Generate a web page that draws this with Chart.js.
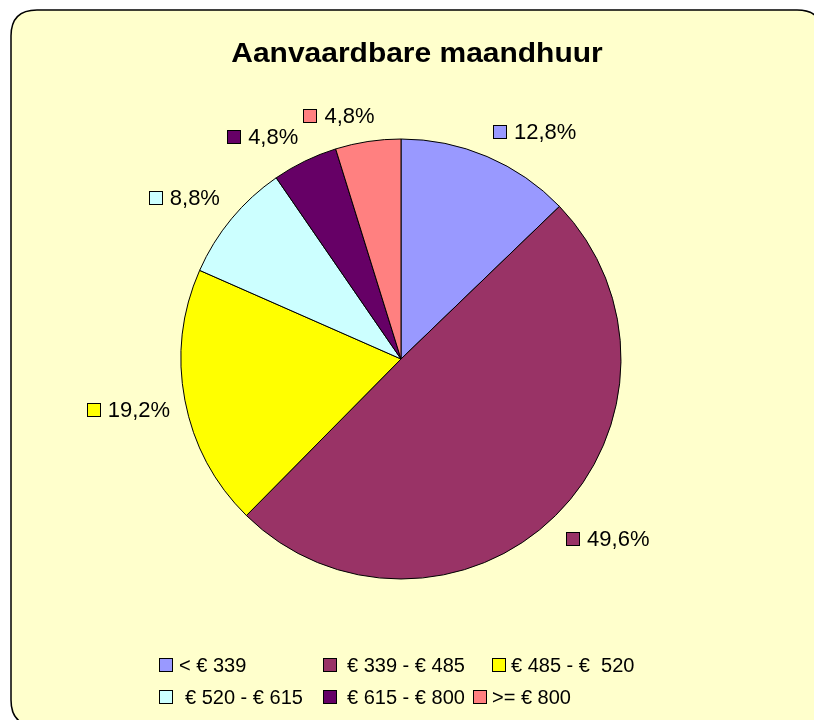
<!DOCTYPE html>
<html>
<head>
<meta charset="utf-8">
<script src="https://cdn.jsdelivr.net/npm/chart.js@4/dist/chart.umd.min.js"></script>
<style>
html,body{margin:0;padding:0;background:#ffffff;}
#wrap{width:814px;height:720px;}
</style>
</head>
<body>
<div id="wrap"><canvas id="c" width="814" height="720"></canvas></div>
<script>
const chartTitle = 'Aanvaardbare maandhuur';
const categories = ['< € 339', '€ 339 - € 485', '€ 485 - €  520', '€ 520 - € 615', '€ 615 - € 800', '>= € 800'];
const shares = [12.8, 49.6, 19.2, 8.8, 4.8, 4.8];
const valueLabels = ['12,8%', '49,6%', '19,2%', '8,8%', '4,8%', '4,8%'];
const sliceColors = ['#9999FF', '#993366', '#FFFF00', '#CCFFFF', '#660066', '#FF8080'];

const FONT = '"Liberation Sans", Arial, sans-serif';

// Legend layout (x of each swatch, row of each item)
const legendSwatchX = [159, 323, 492, 159, 323, 473];
const legendTextGap = [6, 10, 5, 12, 10, 5];
const legendRowY = [665, 697];

const backgroundPlugin = {
  id: 'bgbox',
  beforeDraw(chart) {
    const ctx = chart.ctx;
    ctx.save();
    ctx.fillStyle = '#ffffff';
    ctx.fillRect(0, 0, chart.width, chart.height);
    const x = 11, y = 10, w = 812, h = 716, r = 26;
    ctx.beginPath();
    ctx.moveTo(x + r, y);
    ctx.lineTo(x + w - r, y);
    ctx.quadraticCurveTo(x + w, y, x + w, y + r);
    ctx.lineTo(x + w, y + h - r);
    ctx.quadraticCurveTo(x + w, y + h, x + w - r, y + h);
    ctx.lineTo(x + r, y + h);
    ctx.quadraticCurveTo(x, y + h, x, y + h - r);
    ctx.lineTo(x, y + r);
    ctx.quadraticCurveTo(x, y, x + r, y);
    ctx.closePath();
    ctx.fillStyle = '#FFFFCC';
    ctx.fill();
    ctx.lineWidth = 1.5;
    ctx.strokeStyle = '#000000';
    ctx.stroke();
    ctx.restore();
  }
};

const titlePlugin = {
  id: 'stretchedTitle',
  afterDraw(chart) {
    const ctx = chart.ctx;
    ctx.save();
    ctx.font = 'bold 27px ' + FONT;
    ctx.fillStyle = '#000000';
    ctx.textBaseline = 'alphabetic';
    ctx.textAlign = 'center';
    const sx = 1.11;
    ctx.translate(417, 62);
    ctx.scale(sx, 1);
    ctx.fillText(chartTitle, 0, 0);
    ctx.restore();
  }
};

function clamp(v) { return Math.max(-1, Math.min(1, v)); }

function drawSwatch(ctx, x, y, color) {
  ctx.fillStyle = color;
  ctx.fillRect(x, y, 14, 14);
  ctx.lineWidth = 1;
  ctx.strokeStyle = '#000000';
  ctx.strokeRect(x + 0.5, y + 0.5, 13, 13);
}

const labelPlugin = {
  id: 'outsideLabels',
  afterDatasetsDraw(chart) {
    const ctx = chart.ctx;
    const meta = chart.getDatasetMeta(0);
    ctx.save();
    ctx.font = '22px ' + FONT;
    ctx.textBaseline = 'middle';
    ctx.textAlign = 'left';
    meta.data.forEach((arc, i) => {
      const p = arc.getProps(['x', 'y', 'startAngle', 'endAngle', 'outerRadius'], true);
      const mid = (p.startAngle + p.endAngle) / 2;
      const dx = Math.cos(mid), dy = Math.sin(mid);
      const rr = p.outerRadius + 15;
      const px = p.x + dx * rr, py = p.y + dy * rr;
      const tw = ctx.measureText(valueLabels[i]).width;
      const w = 14 + 7 + tw, h = dy > 0 ? 26 : 22;
      const left = px - w * (1 - clamp(5 * dx)) / 2;
      const top = py - h * (1 - clamp(3 * dy)) / 2;
      const cy = top + h / 2;
      drawSwatch(ctx, Math.round(left), Math.round(cy - 7), sliceColors[i]);
      ctx.fillStyle = '#000000';
      ctx.fillText(valueLabels[i], left + 21, cy + 1);
    });
    ctx.restore();
  }
};

const legendPlugin = {
  id: 'gridLegend',
  afterDraw(chart) {
    const ctx = chart.ctx;
    ctx.save();
    ctx.font = '20px ' + FONT;
    ctx.textBaseline = 'middle';
    ctx.textAlign = 'left';
    categories.forEach((cat, i) => {
      const row = i < 3 ? 0 : 1;
      const y = legendRowY[row];
      const x = legendSwatchX[i];
      drawSwatch(ctx, x, y - 7, sliceColors[i]);
      ctx.fillStyle = '#000000';
      ctx.fillText(cat, x + 14 + legendTextGap[i], y + 1);
    });
    ctx.restore();
  }
};

new Chart(document.getElementById('c'), {
  type: 'pie',
  data: {
    labels: categories,
    datasets: [{
      data: shares,
      backgroundColor: sliceColors,
      borderColor: '#000000',
      borderWidth: 1,
      hoverOffset: 0
    }]
  },
  options: {
    responsive: false,
    animation: false,
    radius: 220,
    layout: { padding: { left: 0, right: 12, top: 0, bottom: 2 } },
    plugins: {
      legend: { display: false },
      title: { display: false },
      tooltip: { enabled: false }
    },
    events: []
  },
  plugins: [backgroundPlugin, labelPlugin, titlePlugin, legendPlugin]
});
</script>
</body>
</html>
